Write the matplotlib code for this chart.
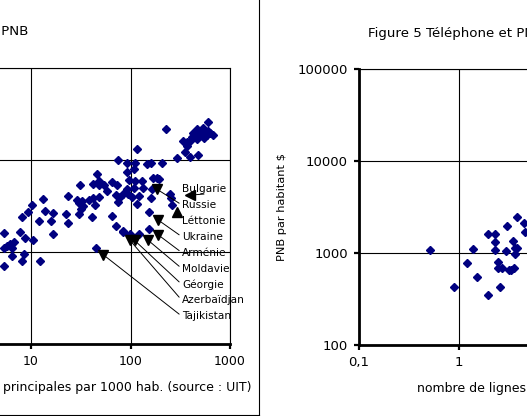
import numpy as np
import matplotlib
matplotlib.use("Agg")
import matplotlib.pyplot as plt
from matplotlib.lines import Line2D
from matplotlib.ticker import LogLocator, NullLocator, FuncFormatter

plt.rcParams['font.family'] = ['DejaVu Sans']

# Figure 4 : lignes principales pour 1000 hab. vs PNB par habitant ($)
tel_left = [5.3, 7.7, 6.7, 6.2, 5.8, 8.7, 10.5, 5.3, 6.4, 8.5, 6.5, 8.2, 12.4, 5.3,
            12.0, 15.9, 23.7, 16.7, 8.2, 9.3, 10.2, 13.9, 16.7, 22.6, 13.3, 23.7,
            29.0, 32.4, 30.3, 38.0, 41.7, 47.9, 33.6, 31.8, 44.3, 30.6, 41.3, 45.0,
            31.3, 41.7, 48.6, 53.8, 46.4, 48.2, 58.5, 65.6, 73.6, 75.3, 72.0, 78.9,
            75.3, 65.6, 72.0, 84.1, 92.9, 110, 146, 160, 209, 116, 92.9, 108, 96.6,
            110, 131, 169, 185, 195, 91.6, 108, 133, 163, 84.7, 103, 123, 162, 250,
            255, 263, 117, 154, 84.7, 98.9, 123, 155, 94.4, 605, 227, 462, 539, 428,
            480, 519, 605, 679, 469, 548, 561, 455, 499, 415, 335, 367, 396, 372,
            353, 480, 396, 295, 585, 631]
pnb_left = [1620, 1650, 1300, 1230, 1170, 1430, 1350, 1100, 1100, 959, 912, 798, 798, 710,
            2170, 2170, 2070, 1570, 2380, 2760, 3270, 2790, 2650, 2610, 3770, 4090,
            3730, 3640, 3410, 3700, 3860, 3960, 3190, 2930, 3270, 2610, 2400, 1110,
            5390, 5480, 5320, 5390, 7100, 6000, 4610, 5770, 5320, 10100, 4200, 4020,
            3490, 2440, 1920, 1660, 9230, 9400, 9120, 9230, 9350, 13200, 7520, 8110, 6110,
            6000, 5950, 6370, 6470, 6260, 4840, 4960, 5000, 4840, 4270, 3960, 4090, 3920, 4270,
            3920, 3290, 3330, 2760, 1680, 1570, 1580, 1780, 4270, 25900, 21900, 21700, 22300, 19600,
            19900, 19300, 21000, 18800, 16900, 17300, 20500, 20500, 18800, 18100, 16200, 15900, 16200, 14300,
            12200, 11400, 10900, 10500, 18600, 19800]

countries = ['Bulgarie', 'Russie', 'Léttonie', 'Ukraine', 'Arménie', 'Moldavie',
             'Géorgie', 'Azerbaïdjan', 'Tajikistan']
tel_countries = [396, 185, 290, 189, 190, 151, 110, 99, 53.3]
pnb_countries = [4170, 4820, 2740, 2240, 1540, 1340, 1340, 1340, 935]

# Figure 5
tel_right = [0.51, 1.39, 1.93, 2.31, 2.31, 2.31, 2.92, 2.99, 3.83, 4.49, 4.57, 3.43, 3.63,
             3.83, 3.66, 1.21, 2.47, 2.43, 2.72, 3.13, 3.31, 3.51, 1.50, 0.90, 2.58, 1.93]
pnb_right = [1080, 1105, 1615, 1615, 1318, 1072, 1041, 1970, 2470, 2120, 1690, 1354, 1133,
             1133, 978, 780, 800, 687, 687, 650, 658, 687, 548, 427, 427, 349]

W, H = 527, 416
NAVY = '#000080'


def fmt(v, pos):
    s = '%g' % v
    return s.replace('.', ',')


def style_axes(ax, ticksize):
    ax.set_xscale('log')
    ax.set_yscale('log')
    ax.xaxis.set_major_locator(LogLocator(base=10, numticks=10))
    ax.yaxis.set_major_locator(LogLocator(base=10, numticks=10))
    ax.xaxis.set_minor_locator(NullLocator())
    ax.yaxis.set_minor_locator(NullLocator())
    ax.xaxis.set_major_formatter(FuncFormatter(fmt))
    ax.yaxis.set_major_formatter(FuncFormatter(fmt))
    ax.grid(True, which='major', color='black', lw=0.8)
    ax.set_axisbelow(True)
    for s in ['top', 'right']:
        ax.spines[s].set_linewidth(0.8)
    for s in ['left', 'bottom']:
        ax.spines[s].set_linewidth(2.0)
    ax.tick_params(which='major', direction='out', length=3.6, width=1.6,
                   labelsize=ticksize, pad=4.5, color='black')


fig = plt.figure(figsize=(W / 100, H / 100), dpi=100)

# left chart (cropped)
ax1 = fig.add_axes([-68.5 / W, (H - 344) / H, 298.5 / W, (344 - 68.3) / H])
style_axes(ax1, 9)
ax1.set_xlim(1, 1000)
ax1.set_ylim(100, 100000)
ax1.plot(tel_left, pnb_left, ls='none', marker='D', ms=4.3, color=NAVY, clip_on=False)

markers = ['<', 'v', '^', 'v', 'v', 'v', 'v', 'v', 'v']
for i, name in enumerate(countries):
    ax1.plot(tel_countries[i], pnb_countries[i], ls='none', marker=markers[i],
             ms=7.5, color='black')
    rel = (0.5, 0.0) if i == 0 else (0.0, 0.5)
    ax1.annotate(name, xy=(tel_countries[i], pnb_countries[i]),
                 xytext=(0.839, 0.562 - i * 0.0577), textcoords='axes fraction',
                 ha='left', va='center', fontsize=7.6,
                 arrowprops=dict(arrowstyle='-', lw=0.7, color='black',
                                 shrinkA=0, shrinkB=0, relpos=rel))

ax1.text(1.0737, -0.156, 'nombre de lignes principales par 1000 hab. (source : UIT)',
         transform=ax1.transAxes, ha='right', va='center', fontsize=9)
fig.text(28 / W, 1 - 32 / H, 'Figure 4 Téléphone et PNB', ha='right', va='center',
         fontsize=9.6)

# right chart (cropped)
ax2 = fig.add_axes([359 / W, (H - 345) / H, 400 / W, 276 / H])
style_axes(ax2, 9.5)
ax2.set_xlim(0.1, 1000)
ax2.set_ylim(100, 100000)
ax2.plot(tel_right, pnb_right, ls='none', marker='D', ms=4.3, color=NAVY)
ax2.set_ylabel('PNB par habitant $', fontsize=8.2)
ax2.yaxis.set_label_coords(-0.181, 0.5)
ax2.text(0.145, -0.158, 'nombre de lignes principales par 1000 hab. (source : UIT)',
         transform=ax2.transAxes, ha='left', va='center', fontsize=9)
fig.text(368 / W, 1 - 33 / H, 'Figure 5 Téléphone et PNB', ha='left', va='center',
         fontsize=9.6)

# chart area border of the left chart
fig.add_artist(Line2D([258.5 / W, 258.5 / W], [1.0, 1.5 / H], color='black', lw=0.8))
fig.add_artist(Line2D([0, 258.5 / W], [1.5 / H, 1.5 / H], color='black', lw=0.8))

fig.savefig('out.png', dpi=100)
